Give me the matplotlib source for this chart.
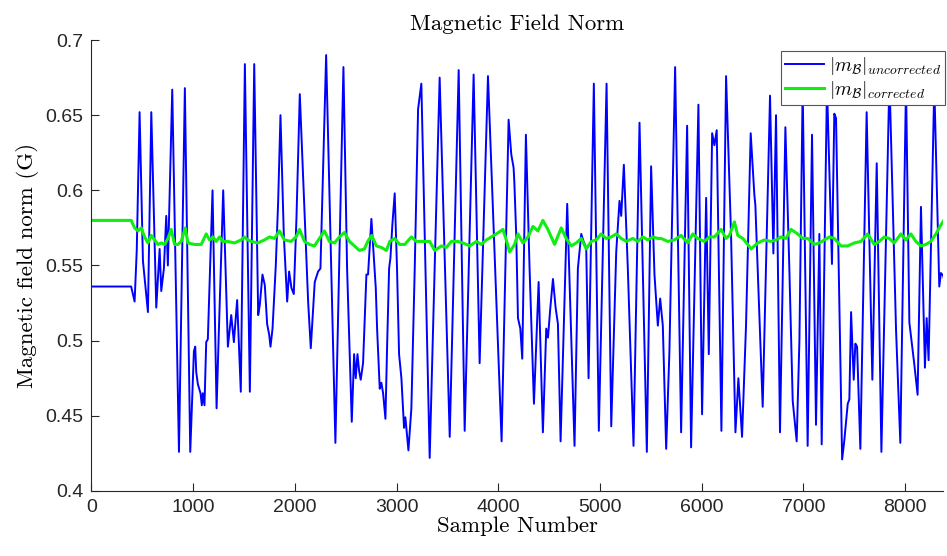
import numpy as np
import matplotlib
matplotlib.use('Agg')
import matplotlib.pyplot as plt

plt.rcParams['mathtext.fontset'] = 'cm'
plt.rcParams['axes.formatter.use_mathtext'] = True

# uncorrected norm: (sample, value)
unc_x = [0, 390, 424, 445, 473, 506, 555, 588, 637, 670, 686, 712, 735, 751, 794, 860, 918, 971,
         1007, 1020, 1030, 1046, 1072, 1085, 1095, 1111, 1128, 1144, 1190, 1230, 1249, 1295, 1341,
         1374, 1400, 1432, 1468, 1508, 1557, 1600, 1639, 1655, 1681, 1704, 1727, 1747, 1760, 1780,
         1812, 1835, 1858, 1891, 1924, 1943, 1966, 1989, 2015, 2048, 2097, 2130, 2156, 2195, 2228,
         2251, 2307, 2398, 2477, 2513, 2559, 2582, 2598, 2615, 2631, 2647, 2670, 2703, 2719, 2752,
         2795, 2808, 2834, 2850, 2867, 2890, 2906, 2926, 2939, 2958, 2981, 3004, 3024, 3047, 3073,
         3086, 3116, 3145, 3178, 3211, 3243, 3325, 3423, 3522, 3610, 3669, 3757, 3816, 3898, 4032,
         4101, 4127, 4150, 4157, 4176, 4193, 4216, 4235, 4271, 4307, 4350, 4396, 4438, 4471, 4488,
         4510, 4537, 4563, 4586, 4612, 4677, 4749, 4782, 4815, 4838, 4864, 4887, 4939, 4988, 5064,
         5110, 5159, 5191, 5208, 5234, 5273, 5329, 5388, 5460, 5502, 5535, 5568, 5591, 5617, 5650,
         5682, 5738, 5797, 5856, 5895, 5967, 6003, 6043, 6069, 6102, 6124, 6147, 6193, 6239, 6288,
         6331, 6360, 6396, 6435, 6481, 6517, 6527, 6599, 6671, 6704, 6730, 6769, 6822, 6861, 6894,
         6933, 6960, 6992, 7041, 7084, 7123, 7156, 7179, 7231, 7280, 7303, 7320, 7380, 7402, 7435,
         7451, 7468, 7494, 7510, 7527, 7559, 7621, 7677, 7720, 7766, 7845, 7910, 7952, 8008, 8041,
         8090, 8122, 8155, 8194, 8211, 8230, 8286, 8335, 8351, 8375, 8394]
unc_y = [0.536, 0.536, 0.526, 0.560, 0.652, 0.553, 0.519, 0.652, 0.522, 0.561, 0.533, 0.548, 0.583,
         0.550, 0.667, 0.426, 0.668, 0.426, 0.493, 0.496, 0.479, 0.471, 0.465, 0.457, 0.465, 0.457,
         0.499, 0.501, 0.600, 0.455, 0.499, 0.600, 0.496, 0.517, 0.499, 0.527, 0.466, 0.684, 0.466,
         0.684, 0.517, 0.524, 0.544, 0.537, 0.511, 0.504, 0.496, 0.508, 0.550, 0.592, 0.650, 0.570,
         0.526, 0.546, 0.535, 0.531, 0.581, 0.664, 0.581, 0.526, 0.495, 0.539, 0.546, 0.548, 0.690,
         0.432, 0.682, 0.548, 0.446, 0.491, 0.475, 0.491, 0.480, 0.474, 0.485, 0.544, 0.544, 0.581,
         0.535, 0.508, 0.468, 0.472, 0.465, 0.448, 0.495, 0.548, 0.555, 0.577, 0.598, 0.548, 0.491,
         0.475, 0.442, 0.449, 0.427, 0.455, 0.548, 0.654, 0.671, 0.422, 0.675, 0.436, 0.680, 0.440,
         0.677, 0.485, 0.676, 0.433, 0.647, 0.624, 0.615, 0.606, 0.570, 0.515, 0.508, 0.488, 0.637,
         0.548, 0.458, 0.539, 0.439, 0.508, 0.502, 0.521, 0.541, 0.522, 0.511, 0.433, 0.591, 0.430,
         0.548, 0.571, 0.566, 0.562, 0.475, 0.671, 0.440, 0.671, 0.443, 0.559, 0.593, 0.583, 0.617,
         0.548, 0.430, 0.645, 0.426, 0.616, 0.544, 0.510, 0.528, 0.510, 0.428, 0.493, 0.682, 0.439,
         0.643, 0.429, 0.657, 0.451, 0.595, 0.491, 0.638, 0.630, 0.640, 0.440, 0.676, 0.570, 0.439,
         0.475, 0.436, 0.510, 0.638, 0.597, 0.590, 0.456, 0.663, 0.558, 0.650, 0.439, 0.642, 0.548,
         0.460, 0.433, 0.500, 0.668, 0.430, 0.637, 0.444, 0.571, 0.431, 0.670, 0.551, 0.651, 0.648,
         0.421, 0.434, 0.458, 0.461, 0.519, 0.474, 0.498, 0.496, 0.428, 0.652, 0.474, 0.618, 0.426,
         0.675, 0.507, 0.432, 0.670, 0.512, 0.484, 0.464, 0.589, 0.482, 0.515, 0.487, 0.670, 0.536,
         0.545, 0.543, 0.536]

# corrected norm, written as (sample, value) pairs
cor_pts = [(0, 0.580), (390, 0.580), (424, 0.575), (457, 0.573), (490, 0.575), (522, 0.569),
           (555, 0.565), (588, 0.570), (620, 0.567), (653, 0.564), (686, 0.565), (719, 0.564),
           (752, 0.568), (784, 0.574), (817, 0.564), (850, 0.564), (882, 0.566), (922, 0.575),
           (948, 0.565), (1013, 0.564), (1079, 0.564), (1128, 0.571), (1161, 0.567), (1193, 0.569),
           (1226, 0.566), (1259, 0.569), (1292, 0.566), (1341, 0.566), (1406, 0.565), (1472, 0.567),
           (1504, 0.569), (1537, 0.567), (1570, 0.566), (1635, 0.565), (1701, 0.567), (1750, 0.569),
           (1799, 0.568), (1848, 0.573), (1897, 0.567), (1963, 0.566), (2012, 0.569), (2045, 0.574),
           (2094, 0.566), (2143, 0.564), (2192, 0.563), (2241, 0.568), (2290, 0.573), (2339, 0.566),
           (2389, 0.565), (2438, 0.569), (2487, 0.572), (2536, 0.566), (2585, 0.563), (2634, 0.560),
           (2683, 0.561), (2716, 0.566), (2755, 0.570), (2801, 0.563), (2850, 0.562), (2900, 0.560),
           (2932, 0.566), (2981, 0.568), (3030, 0.564), (3080, 0.564), (3145, 0.569), (3194, 0.566),
           (3260, 0.566), (3325, 0.566), (3374, 0.560), (3440, 0.563), (3489, 0.562), (3538, 0.566),
           (3603, 0.566), (3652, 0.565), (3718, 0.563), (3784, 0.566), (3833, 0.564), (3882, 0.567),
           (3931, 0.569), (3980, 0.571), (4045, 0.574), (4078, 0.567), (4111, 0.559), (4160, 0.564),
           (4193, 0.571), (4242, 0.565), (4291, 0.569), (4340, 0.576), (4389, 0.573), (4438, 0.580),
           (4487, 0.574), (4553, 0.564), (4618, 0.575), (4667, 0.568), (4717, 0.563), (4766, 0.565),
           (4815, 0.568), (4864, 0.561), (4913, 0.566), (4962, 0.567), (5011, 0.571), (5060, 0.568),
           (5110, 0.569), (5159, 0.571), (5208, 0.568), (5257, 0.566), (5322, 0.568), (5371, 0.566),
           (5421, 0.569), (5470, 0.567), (5519, 0.569), (5568, 0.568), (5600, 0.568), (5666, 0.566),
           (5731, 0.567), (5797, 0.570), (5862, 0.565), (5912, 0.571), (5961, 0.568), (6026, 0.566),
           (6075, 0.569), (6124, 0.569), (6190, 0.574), (6239, 0.568), (6272, 0.570), (6321, 0.579),
           (6354, 0.570), (6403, 0.568), (6452, 0.564), (6485, 0.561), (6550, 0.565), (6615, 0.567),
           (6681, 0.566), (6730, 0.567), (6779, 0.569), (6828, 0.568), (6877, 0.574), (6943, 0.571),
           (6992, 0.568), (7041, 0.568), (7107, 0.564), (7156, 0.565), (7205, 0.567), (7254, 0.569),
           (7303, 0.568), (7368, 0.563), (7434, 0.563), (7499, 0.565), (7565, 0.566), (7630, 0.571),
           (7696, 0.564), (7745, 0.566), (7794, 0.569), (7843, 0.568), (7892, 0.565), (7958, 0.571),
           (8007, 0.567), (8056, 0.571), (8105, 0.566), (8154, 0.563), (8203, 0.564), (8252, 0.566),
           (8302, 0.571), (8351, 0.577), (8390, 0.581)]
cor_x = [p[0] for p in cor_pts]
cor_y = [p[1] for p in cor_pts]

xticks = [0, 1000, 2000, 3000, 4000, 5000, 6000, 7000, 8000]
yticks = [0.4, 0.45, 0.5, 0.55, 0.6, 0.65, 0.7]
ytick_labels = ['0.4', '0.45', '0.5', '0.55', '0.6', '0.65', '0.7']

fig = plt.figure(figsize=(9.47, 5.56), dpi=100)
ax = fig.add_axes([0.0966, 0.117, 0.899, 0.811])

ax.plot(unc_x, unc_y, color='#0000ff', lw=1.4, solid_joinstyle='round',
        label=r'$|m_{\mathcal{B}}|_{uncorrected}$')
ax.plot(cor_x, cor_y, color='#11ee11', lw=2.2, solid_joinstyle='round',
        label=r'$|m_{\mathcal{B}}|_{corrected}$')

ax.set_xlim(0, 8370)
ax.set_ylim(0.4, 0.7)
ax.set_xticks(xticks)
ax.set_xticklabels([str(t) for t in xticks])
ax.set_yticks(yticks)
ax.set_yticklabels(ytick_labels)

for s in ['top', 'right']:
    ax.spines[s].set_visible(False)
for s in ['left', 'bottom']:
    ax.spines[s].set_color('#262626')
    ax.spines[s].set_linewidth(0.8)
ax.tick_params(direction='in', length=6, width=0.8, colors='#262626',
               labelsize=14, pad=6)
for lab in ax.get_xticklabels() + ax.get_yticklabels():
    lab.set_family('Liberation Sans')

ax.set_title('Magnetic Field Norm', family='cmr10', fontsize=16.5, pad=7)
ax.set_xlabel('Sample Number', family='cmr10', fontsize=16.5, labelpad=0)
ax.set_ylabel('Magnetic field norm (G)', family='cmr10', fontsize=16.5, labelpad=4)

leg = ax.legend(loc='upper right', bbox_to_anchor=(1.003, 0.976), fontsize=14,
                fancybox=False, framealpha=1, edgecolor='#555555',
                handlelength=2.0, borderaxespad=0, borderpad=0.2,
                labelspacing=0.1, handletextpad=0.3)
leg.get_frame().set_linewidth(0.8)

fig.savefig('out.png', dpi=100)
